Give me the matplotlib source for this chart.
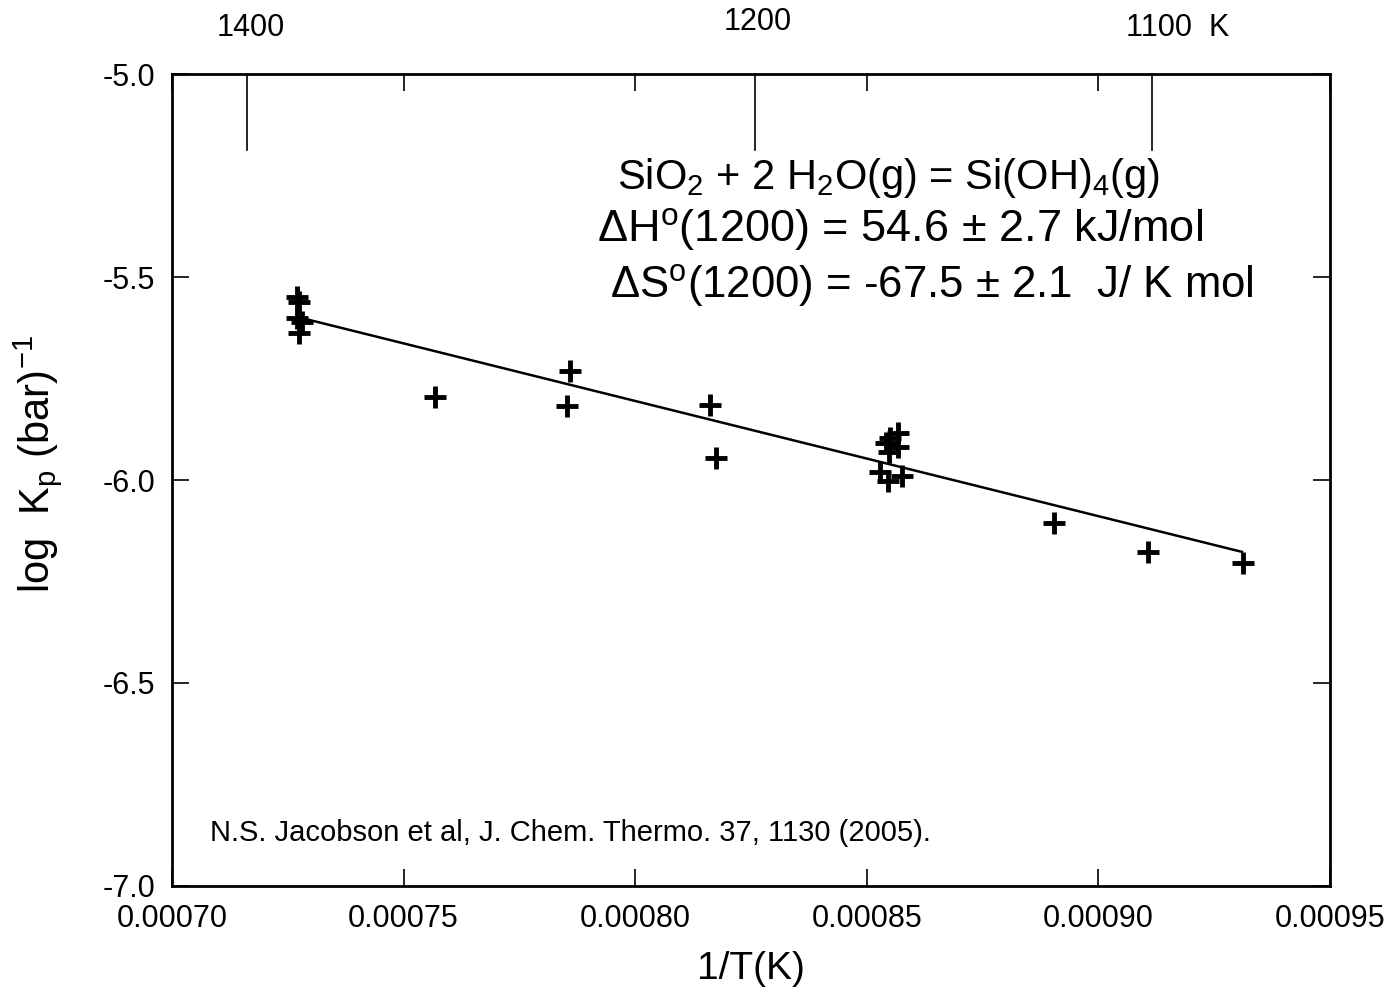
import matplotlib
matplotlib.use("Agg")
import matplotlib.pyplot as plt

plt.rcParams["font.family"] = ["Liberation Sans", "DejaVu Sans"]
plt.rcParams["mathtext.fontset"] = "custom"
plt.rcParams["mathtext.rm"] = "Liberation Sans"
plt.rcParams["mathtext.it"] = "Liberation Sans"

# measured points: 1/T (1/K) and log Kp
inv_t = [0.0007270, 0.0007275, 0.0007270, 0.0007280, 0.0007275,
         0.0007568, 0.0007859, 0.0007853, 0.0008161, 0.0008174,
         0.0008567, 0.0008550, 0.0008541, 0.0008567, 0.0008548,
         0.0008529, 0.0008576, 0.0008546,
         0.0008904, 0.0009107, 0.0009312]
log_kp = [-5.549, -5.562, -5.601, -5.611, -5.638,
          -5.796, -5.732, -5.818, -5.815, -5.946,
          -5.884, -5.897, -5.909, -5.919, -5.931,
          -5.980, -5.990, -6.003,
          -6.106, -6.177, -6.204]

# fitted line
fit_x = [0.000728, 0.000931]
fit_y = [-5.601, -6.177]

# temperature markers on top
temp_x = [0.0007162, 0.0008259, 0.0009116]
temp_labels = ["1400", "1200", "1100  K"]

fig = plt.figure(figsize=(13.89, 10.06), dpi=100)
ax = fig.add_axes([0.1238, 0.1193, 0.8337, 0.8071])

ax.plot(inv_t, log_kp, "+", color="black", markersize=16, markeredgewidth=3.5)
ax.plot(fit_x, fit_y, "-", color="black", linewidth=1.8)

# top temperature scale
for x in temp_x:
    ax.plot([x, x], [-5.0, -5.187], color="black", linewidth=1.2)
label_y = [-4.887, -4.872, -4.887]
label_dx = [0.0000008, 0.0000005, 0.0000055]
for x, lab, ly, dx in zip(temp_x, temp_labels, label_y, label_dx):
    ax.text(x + dx, ly, lab, ha="center", va="center", fontsize=22, clip_on=False)

ax.set_xlim(0.0007, 0.00095)
ax.set_ylim(-7.0, -5.0)
ax.set_xticks([0.0007, 0.00075, 0.0008, 0.00085, 0.0009, 0.00095])
ax.set_xticklabels(["0.00070", "0.00075", "0.00080", "0.00085", "0.00090", "0.00095"])
ax.set_yticks([-7.0, -6.5, -6.0, -5.5, -5.0])
ax.set_yticklabels(["-7.0", "-6.5", "-6.0", "-5.5", "-5.0"])
ax.tick_params(direction="in", length=12, width=1.2, labelsize=22,
               top=True, right=True)
ax.tick_params(axis="x", pad=13)
ax.tick_params(axis="y", pad=12)
for s in ax.spines.values():
    s.set_linewidth(2)

ax.set_xlabel("1/T(K)", fontsize=28, labelpad=12)
ax.set_ylabel("log  K$_\\mathrm{p}$ (bar)$^{-1}$", fontsize=30)
ax.yaxis.set_label_coords(-0.093, 0.52)

# reaction and thermodynamic values
ax.text(0.0007961, -5.256, "SiO$_2$ + 2 H$_2$O(g) = Si(OH)$_4$(g)",
        fontsize=30, va="center")
ax.text(0.0007918, -5.384, "$\\Delta$H$^\\mathrm{o}$(1200) = 54.6 $\\pm$ 2.7 kJ/mol",
        fontsize=32.5, va="center")
ax.text(0.0007946, -5.520, "$\\Delta$S$^\\mathrm{o}$(1200) = -67.5 $\\pm$ 2.1  J/ K mol",
        fontsize=31.5, va="center")

ax.text(0.0007082, -6.87, "N.S. Jacobson et al, J. Chem. Thermo. 37, 1130 (2005).",
        fontsize=21, va="center")

fig.savefig("out.png", dpi=100)
